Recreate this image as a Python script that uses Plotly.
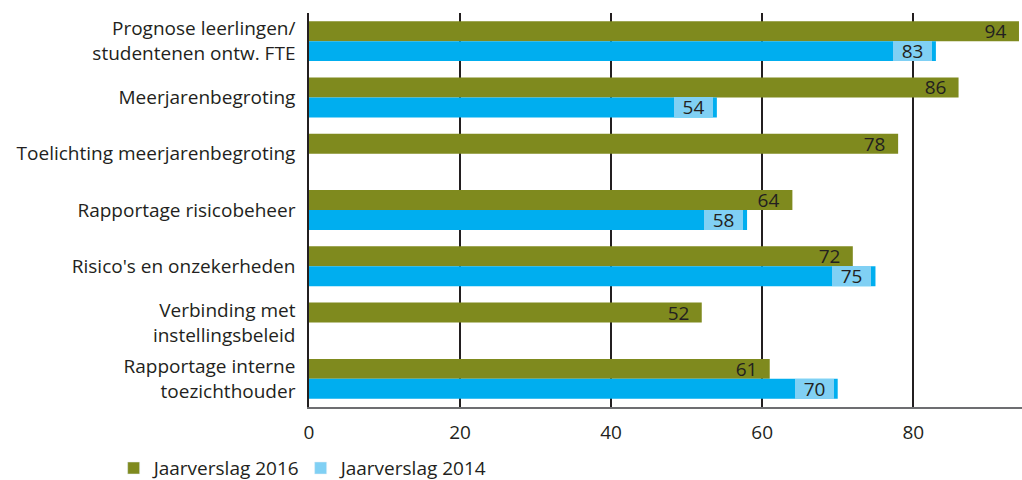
import plotly.graph_objects as go

categories = [
    "Prognose leerlingen/<br>studentenen ontw. FTE",
    "Meerjarenbegroting",
    "Toelichting meerjarenbegroting",
    "Rapportage risicobeheer",
    "Risico's en onzekerheden",
    "Verbinding met<br>instellingsbeleid",
    "Rapportage interne<br>toezichthouder",
]
values_2016 = [94, 86, 78, 64, 72, 52, 61]
values_2014 = [83, 54, None, 58, 75, None, 70]
x_ticks = [0, 20, 40, 60, 80]

GREEN = '#7f8a1e'
BLUE = '#00aeef'
LIGHT_BLUE = '#80d0f4'
TEXT = '#231f20'
FONT = 'Open Sans'
BAR_W = 0.355

fig = go.Figure()

fig.add_trace(go.Bar(
    y=categories, x=values_2016, orientation='h',
    width=BAR_W, offset=-BAR_W,
    marker=dict(color=GREEN, line=dict(width=0)),
    showlegend=False, hoverinfo='x',
))
fig.add_trace(go.Bar(
    y=categories, x=values_2014, orientation='h',
    width=BAR_W, offset=0,
    marker=dict(color=BLUE, line=dict(width=0)),
    showlegend=False, hoverinfo='x',
))

# legend-only entries (2014 legend uses the light label colour)
fig.add_trace(go.Bar(y=[None], x=[None], orientation='h',
                     marker_color=GREEN, name='Jaarverslag 2016'))
fig.add_trace(go.Bar(y=[None], x=[None], orientation='h',
                     marker_color=LIGHT_BLUE, name='Jaarverslag 2014'))

for cat, v16, v14 in zip(categories, values_2016, values_2014):
    fig.add_annotation(x=v16, y=cat, text=str(v16), showarrow=False,
                       xanchor='right', xshift=-4, yshift=10,
                       width=39, height=20,
                       borderpad=0, borderwidth=0,
                       font=dict(family=FONT, size=19, color=TEXT))
    if v14 is not None:
        fig.add_annotation(x=v14, y=cat, text=str(v14), showarrow=False,
                           xanchor='right', xshift=-4, yshift=-10,
                           width=39, height=20, bgcolor=LIGHT_BLUE,
                           borderpad=0, borderwidth=0,
                           font=dict(family=FONT, size=19, color=TEXT))

fig.update_layout(
    width=1022, height=480,
    margin=dict(l=309, r=0, t=13, b=73, autoexpand=False),
    paper_bgcolor='white', plot_bgcolor='white',
    barmode='overlay',
    font=dict(family=FONT, size=19, color=TEXT),
    xaxis=dict(
        range=[0, 94.4], tickvals=x_ticks,
        showgrid=True, gridcolor=TEXT, gridwidth=2,
        zeroline=False, showline=True, linecolor='#6d6e71', linewidth=1.5,
        ticks='', ticklabelstandoff=7,
        tickfont=dict(size=19, color=TEXT), fixedrange=True,
        automargin=False,
    ),
    yaxis=dict(
        autorange='reversed', showgrid=False, zeroline=False,
        showline=True, linecolor=TEXT, linewidth=1.5,
        ticks='', ticklabelstandoff=8, automargin=False,
        tickfont=dict(size=19, color=TEXT),
    ),
    legend=dict(
        orientation='h', x=-0.274, xanchor='left', y=-0.107, yanchor='top',
        font=dict(size=19, color=TEXT), entrywidth=142,
        traceorder='normal',
    ),
)

fig.write_html("out.html", config={'displayModeBar': False},
               post_script="document.body.style.margin='0';")
